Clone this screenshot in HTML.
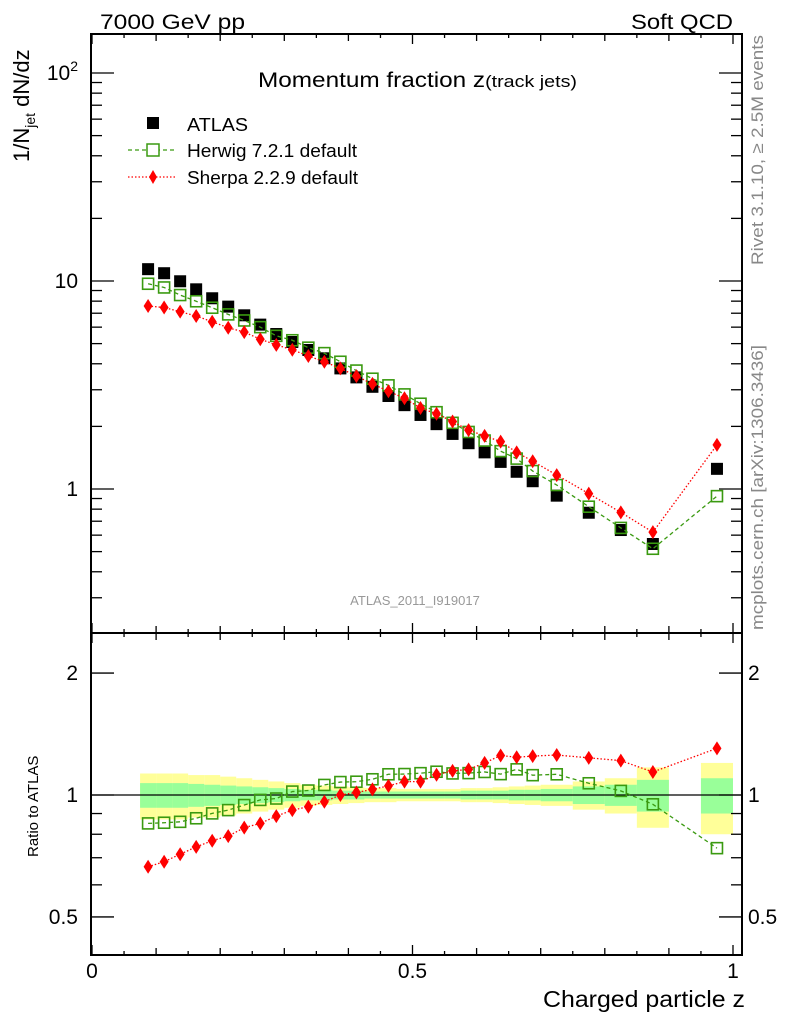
<!DOCTYPE html>
<html><head><meta charset="utf-8"><style>
html,body{margin:0;padding:0;background:#fff}
svg{display:block;font-family:"Liberation Sans",Arial,sans-serif}
</style></head><body>
<svg id="c" width="786" height="1024" viewBox="0 0 786 1024">
<text x="100" y="29" font-size="21" textLength="145" lengthAdjust="spacingAndGlyphs">7000 GeV pp</text>
<text x="631" y="29" font-size="21" textLength="102" lengthAdjust="spacingAndGlyphs">Soft QCD</text>
<text x="258" y="87" font-size="21" textLength="319" lengthAdjust="spacingAndGlyphs">Momentum fraction z<tspan font-size="17">(track jets)</tspan></text>
<text x="415" y="605" font-size="13" fill="#999" text-anchor="middle">ATLAS_2011_I919017</text>
<text transform="translate(763,265) rotate(-90)" font-size="17" fill="#888" textLength="230" lengthAdjust="spacingAndGlyphs">Rivet 3.1.10, ≥ 2.5M events</text>
<text transform="translate(763,630) rotate(-90)" font-size="17" fill="#888" textLength="285" lengthAdjust="spacingAndGlyphs">mcplots.cern.ch [arXiv:1306.3436]</text>
<text transform="translate(29,162) rotate(-90)" font-size="22">1/N<tspan font-size="14" dy="6">jet</tspan><tspan dy="-6"> dN/dz</tspan></text>
<text transform="translate(38,857) rotate(-90)" font-size="15">Ratio to ATLAS</text>
<text x="543" y="1007" font-size="23" textLength="202" lengthAdjust="spacingAndGlyphs">Charged particle z</text>
<g>
<rect x="147" y="117" width="12" height="12" fill="#000"/>
<text x="187" y="131" font-size="18" textLength="61" lengthAdjust="spacingAndGlyphs">ATLAS</text>
<line x1="128" y1="150" x2="176" y2="150" stroke="#3a9a10" stroke-width="1.3" stroke-dasharray="4,3"/>
<rect x="147" y="144" width="12" height="12" fill="#fff" stroke="#3a9a10" stroke-width="1.5"/>
<text x="187" y="157" font-size="18" textLength="170" lengthAdjust="spacingAndGlyphs">Herwig 7.2.1 default</text>
<line x1="128" y1="177" x2="176" y2="177" stroke="#f00" stroke-width="1.3" stroke-dasharray="1.5,2"/>
<polygon points="153,170 157,177 153,184 149,177" fill="#f00"/>
<text x="187" y="184" font-size="18" textLength="171" lengthAdjust="spacingAndGlyphs">Sherpa 2.2.9 default</text>
</g>
<g id="plot"></g>
</svg>
<script>
const xCenters=[0.0875,0.1125,0.1375,0.1625,0.1875,0.2125,0.2375,0.2625,0.2875,0.3125,0.3375,0.3625,0.3875,0.4125,0.4375,0.4625,0.4875,0.5125,0.5375,0.5625,0.5875,0.6125,0.6375,0.6625,0.6875,0.725,0.775,0.825,0.875,0.975];
const xLow=[0.075,0.1,0.125,0.15,0.175,0.2,0.225,0.25,0.275,0.3,0.325,0.35,0.375,0.4,0.425,0.45,0.475,0.5,0.525,0.55,0.575,0.6,0.625,0.65,0.675,0.7,0.75,0.8,0.85,0.95];
const xHigh=[0.1,0.125,0.15,0.175,0.2,0.225,0.25,0.275,0.3,0.325,0.35,0.375,0.4,0.425,0.45,0.475,0.5,0.525,0.55,0.575,0.6,0.625,0.65,0.675,0.7,0.75,0.8,0.85,0.9,1.0];
const atlas=[11.4,10.9,9.97,9.12,8.26,7.53,6.84,6.17,5.56,5.09,4.66,4.25,3.80,3.44,3.10,2.80,2.53,2.27,2.05,1.84,1.66,1.50,1.35,1.21,1.09,0.929,0.769,0.635,0.544,1.25];
const herwig=[9.70,9.31,8.56,7.99,7.44,6.91,6.46,6.00,5.45,5.19,4.78,4.50,4.09,3.71,3.39,3.15,2.85,2.57,2.34,2.08,1.88,1.71,1.52,1.40,1.22,1.045,0.822,0.650,0.516,0.924];
const sherpa=[7.58,7.46,7.12,6.79,6.37,5.96,5.68,5.25,4.93,4.67,4.36,4.09,3.80,3.49,3.20,2.95,2.73,2.45,2.30,2.11,1.92,1.80,1.69,1.50,1.36,1.166,0.950,0.772,0.620,1.63];
const totErr=[0.13,0.13,0.13,0.12,0.12,0.11,0.10,0.09,0.08,0.07,0.06,0.055,0.05,0.045,0.04,0.04,0.035,0.035,0.035,0.035,0.04,0.04,0.045,0.05,0.055,0.06,0.08,0.10,0.17,0.20];
const statErr=[0.07,0.07,0.07,0.065,0.06,0.055,0.05,0.045,0.04,0.035,0.03,0.03,0.025,0.025,0.02,0.02,0.02,0.02,0.02,0.02,0.025,0.025,0.025,0.03,0.03,0.035,0.05,0.06,0.09,0.10];
const mainTicks=["1","10","10²"];
const ratioTicks=["0.5","1","2"];
const xTicks=["0","0.5","1"];

const NS="http://www.w3.org/2000/svg";
const g=document.getElementById('plot');
const L=91,R=742,T=34,M=633,B=955;
const X=v=>92+v*641;
const Y=v=>489-208*Math.log10(v);
const YR=v=>795-405*Math.log10(v);
function mk(t,a,p){const e=document.createElementNS(NS,t);for(const k in a)e.setAttribute(k,a[k]);(p||g).appendChild(e);return e;}

for(let i=0;i<xCenters.length;i++){
  const y1=mk('rect',{x:X(xLow[i]),y:YR(1+totErr[i]),width:X(xHigh[i])-X(xLow[i]),height:YR(1-totErr[i])-YR(1+totErr[i]),fill:'#ffff99'});
  
  
}
for(let i=0;i<xCenters.length;i++){
  const y2=mk('rect',{x:X(xLow[i]),y:YR(1+statErr[i]),width:X(xHigh[i])-X(xLow[i]),height:YR(1-statErr[i])-YR(1+statErr[i]),fill:'#99ff99'});
  
  
}
const one=mk('line',{x1:L,x2:R,y1:YR(1),y2:YR(1),stroke:'#000','stroke-width':1.3});



const f1=mk('rect',{x:L,y:T,width:R-L,height:M-T,fill:'none',stroke:'#000','stroke-width':2});


const f2=mk('rect',{x:L,y:M,width:R-L,height:B-M,fill:'none',stroke:'#000','stroke-width':2});



for(let k=0;k<=20;k++){
  const v=k*0.05, px=X(v); const len=(k%10==0)?10:(k%2==0?7:4);
  [T,M].forEach(y0=>{const t=mk('line',{x1:px,x2:px,y1:y0,y2:y0+len,stroke:'#000','stroke-width':1.3});});
  [M,B].forEach(y0=>{const t=mk('line',{x1:px,x2:px,y1:y0,y2:y0-len,stroke:'#000','stroke-width':1.3});});
}
xTicks.forEach((s,i)=>{const t=mk('text',{x:X(i*0.5),y:978,'font-size':21,'text-anchor':'middle'});t.textContent=s;});

for(let d=-1;d<=2;d++){for(let m=1;m<=9;m++){const v=m*Math.pow(10,d);const py=Y(v);if(py<T||py>M)continue;
  const len=m==1?23:11;
  const a=mk('line',{x1:L,x2:L+len,y1:py,y2:py,stroke:'#000','stroke-width':1.3});
  const b=mk('line',{x1:R,x2:R-len,y1:py,y2:py,stroke:'#000','stroke-width':1.3});}}
mainTicks.forEach((s,i)=>{const v=Math.pow(10,i);const t=mk('text',{x:78,y:Y(v)+7,'font-size':21,'text-anchor':'end'});
  if(i==2){t.textContent='10';const sp=mk('tspan',{'font-size':14,dy:-9},t);sp.textContent='2';}else t.textContent=s;
  });

for(let d=-1;d<=0;d++){for(let m=1;m<=9;m++){const v=m*Math.pow(10,d);const py=YR(v);if(py<M+1||py>B)continue;
  const major=[0.5,1,2].some(q=>Math.abs(q-v)<1e-9);const len=major?23:11;
  const a=mk('line',{x1:L,x2:L+len,y1:py,y2:py,stroke:'#000','stroke-width':1.3});
  const b=mk('line',{x1:R,x2:R-len,y1:py,y2:py,stroke:'#000','stroke-width':1.3});}}
ratioTicks.forEach(s=>{const v=parseFloat(s);
  const t=mk('text',{x:78,y:YR(v)+7,'font-size':21,'text-anchor':'end'});t.textContent=s;
  const t2=mk('text',{x:748,y:YR(v)+7,'font-size':21}); t2.textContent=s;});

function series(vals,yf,color,dash,marker,name,ratio){
  const pts=vals.map((v,i)=>X(xCenters[i])+','+yf(ratio?v/atlas[i]:v)).join(' ');
  if(dash){const pl=mk('polyline',{points:pts,fill:'none',stroke:color,'stroke-width':1.3,'stroke-dasharray':dash});}
  vals.forEach((v,i)=>{const cx=X(xCenters[i]),cy=yf(ratio?v/atlas[i]:v);let e;
    if(marker=='sq')e=mk('rect',{x:cx-6,y:cy-6,width:12,height:12,fill:'#000'});
    else if(marker=='osq')e=mk('rect',{x:cx-5.5,y:cy-5.5,width:11,height:11,fill:'none',stroke:color,'stroke-width':1.6});
    else e=mk('polygon',{points:`${cx},${cy-7} ${cx+4.5},${cy} ${cx},${cy+7} ${cx-4.5},${cy}`,fill:color});
    
    });
}
series(atlas,Y,'#000',null,'sq','atlas',false);
series(herwig,Y,'#3a9a10','4,3','osq','herwig',false);
series(sherpa,Y,'#f00','1.5,2','dia','sherpa',false);
series(herwig,YR,'#3a9a10','4,3','osq','herwig-ratio',true);
series(sherpa,YR,'#f00','1.5,2','dia','sherpa-ratio',true);
</script>
</body></html>
